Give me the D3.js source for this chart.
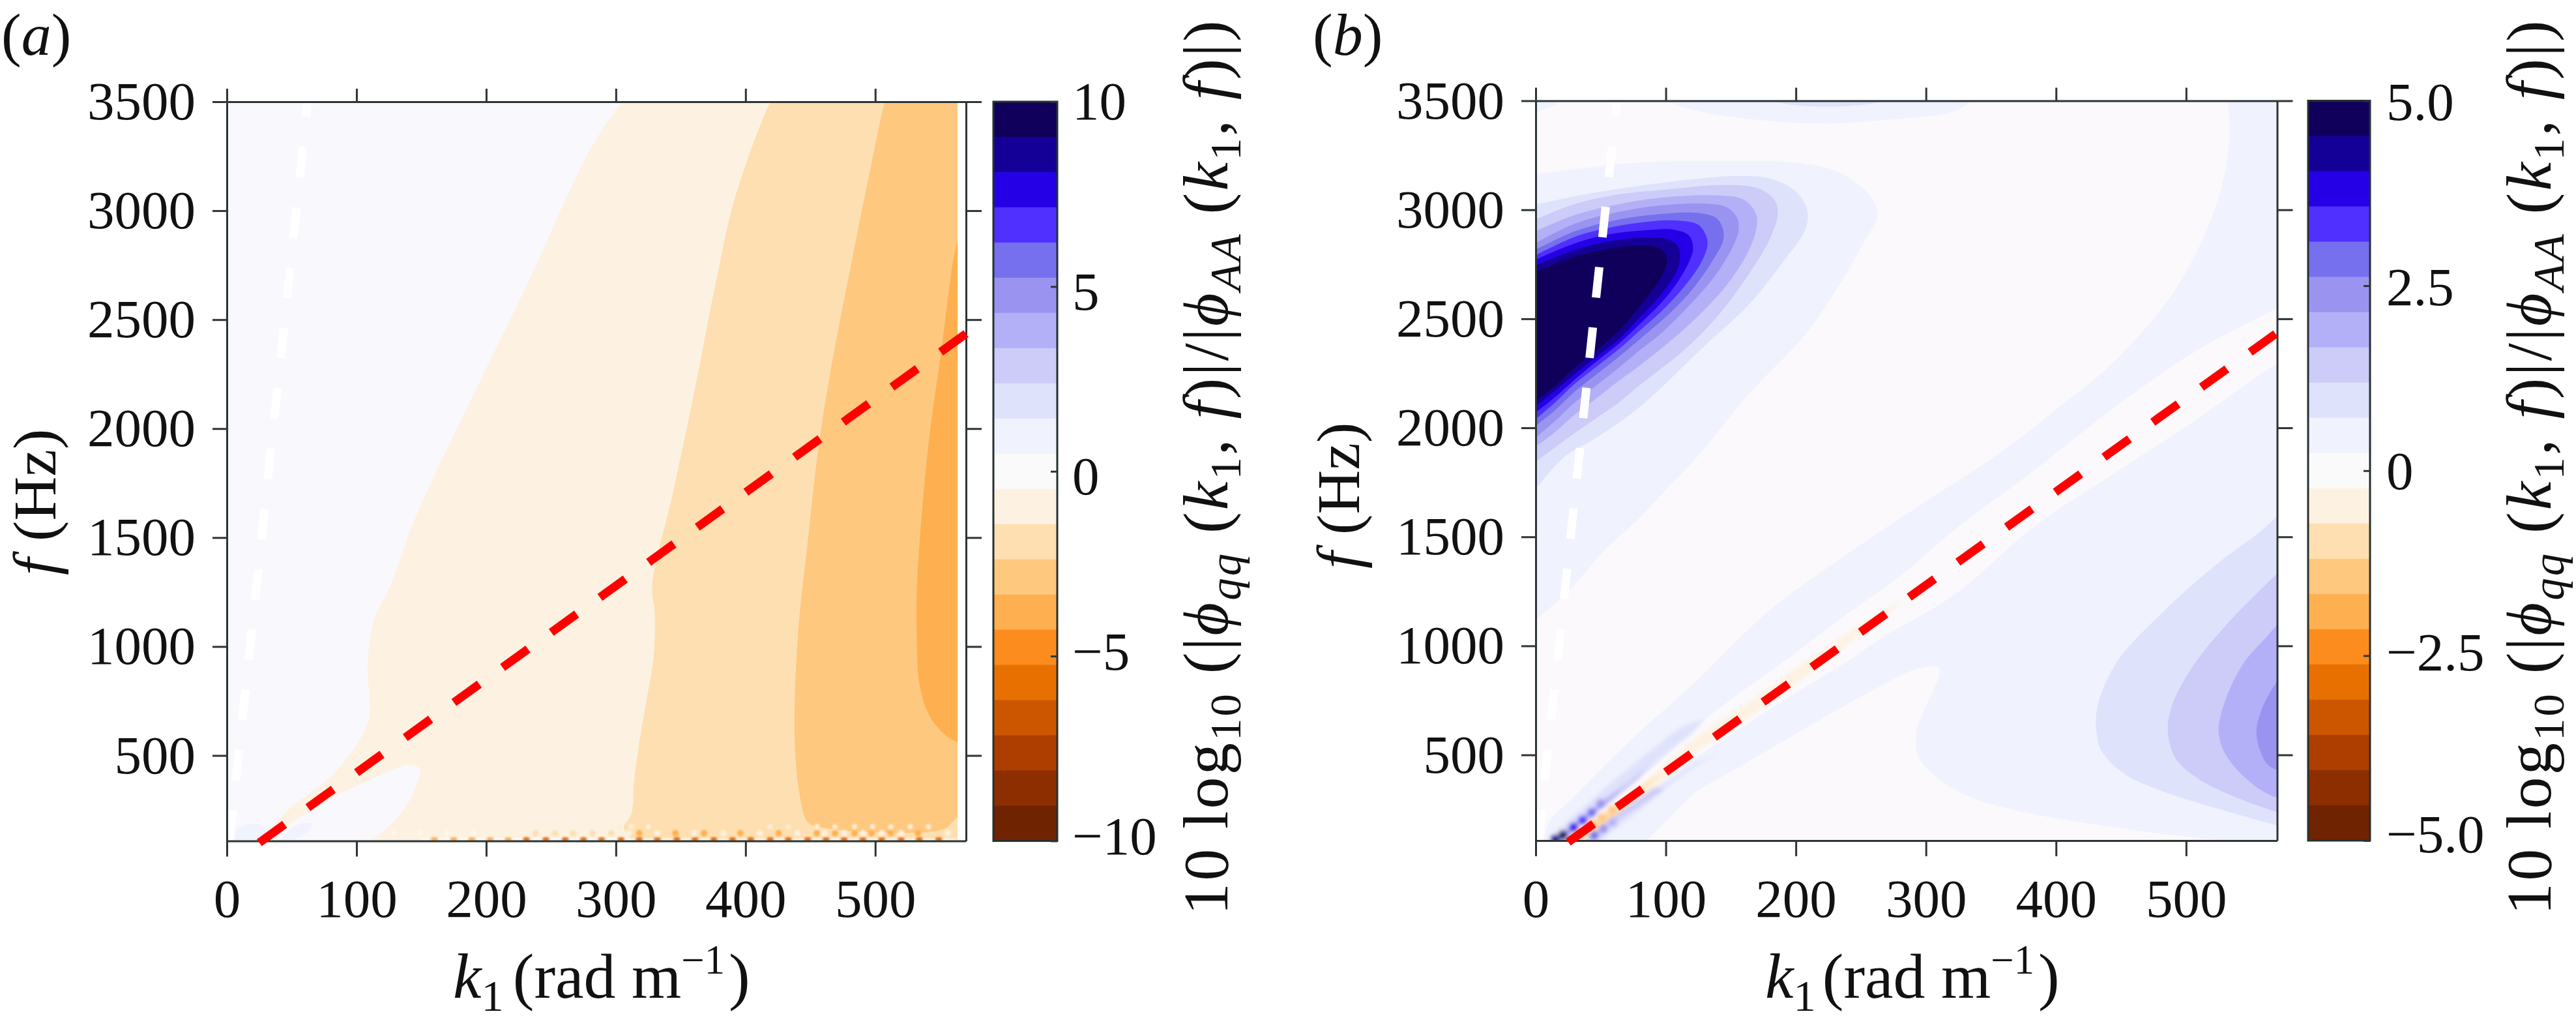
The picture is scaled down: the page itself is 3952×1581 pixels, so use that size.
<!DOCTYPE html>
<html>
<head>
<meta charset="utf-8">
<script src="https://cdn.jsdelivr.net/npm/d3@7"></script>
<style>
  html, body { margin: 0; padding: 0; background: #fff; }
  svg { display: block; }
  text { font-family: "Liberation Serif", serif; fill: #111; }
</style>
</head>
<body>
<svg id="chart" width="3952" height="1581"></svg>
<script>
var kTicks = [0, 100, 200, 300, 400, 500];
var fTicks = [500, 1000, 1500, 2000, 2500, 3000, 3500];
var cbarTicksA = [-10, -5, 0, 5, 10];
var cbarTicksB = [-5, -2.5, 0, 2.5, 5];
var cbarLabelsA = ['\u221210', '\u22125', '0', '5', '10'];
var cbarLabelsB = ['\u22125.0', '\u22122.5', '0', '2.5', '5.0'];

// colorbar, from the top band down
var bandColors = ['#10005c', '#150097', '#2500e6', '#5030ff', '#7670ee', '#9a94f0', '#b3b0f8',
  '#cdcbf8', '#dfe2fb', '#f0f2fd', '#fbfafb', '#fdf2e2', '#fedfb1', '#fec87f', '#feb050',
  '#fc8c1e', '#e87000', '#cc5600', '#ad3e00', '#8c2e00', '#6f2300'];

// white and red ridge lines, [k1, f]
var ridgeWhite = [[2, 108], [63, 3530]];
var ridgeRed = [[25, 100], [571, 2440]];

// panel (a) contour edges, [k1, f]
var aCream = [[310, 3560], [304, 3500], [280, 3280], [232, 2668], [146, 1600], [126, 1278], [113.6, 1127], [108.7, 932],
  [109.7, 678], [104, 588], [81.6, 411], [49, 260], [25, 108], [20, 80], [600, 80], [600, 3560]];
var aIsland = [[33, 100], [43, 160], [81.6, 306], [113.6, 397], [135, 450], [142, 458], [149, 440], [149, 426], [142, 306],
  [127, 187], [110, 108], [105, 90], [33, 90]];
var aPeach = [[425, 3560], [419, 3500], [392, 3063], [376, 2640], [360, 2156], [344, 1705], [328, 1282], [330, 1150],
  [329, 950], [322, 700], [318, 558], [314, 382], [312, 233], [306, 170], [312, 108], [312, 80], [600, 80], [600, 3560]];
var aOrangeLight = [[512, 3560], [507.6, 3500], [497, 3213], [481.6, 2760], [465, 2245], [455.6, 1884], [447.6, 1462],
  [441, 1100], [438, 768], [438, 558], [441, 346], [447.7, 196], [456, 172], [552, 160], [563, 212], [600, 300], [600, 3560]];
var aOrange = [[575, 3000], [563, 2850], [557, 2640], [550.6, 2340], [542.6, 2007], [536, 1615], [532, 1252], [532, 1040],
  [534, 830], [541, 692], [550, 617], [563, 563], [600, 540], [600, 3000]];
var aBlueLeft = [[6, 100], [8, 160], [20, 185], [27, 180], [30, 150], [24, 100]];
var aBlueRight = [[40, 100], [52, 175], [66, 187], [62, 150], [52, 115], [46, 100]];

// panel (a) speckle along the lower edge, k1 only
var speckOrangeK = [160, 175, 189, 203, 217, 231, 246, 261, 275, 289, 304, 318, 332, 347, 361, 375.5, 390, 404, 419, 433,
  448, 462, 476, 490.5, 505, 520, 534, 549];
var speckPeachK = [238, 253, 267, 282, 296.5, 310, 318, 332, 346, 360.5, 368, 383, 396, 411, 425.5, 440, 455, 461, 469, 476,
  484, 490.6, 497, 505, 512, 520, 533, 556];
var speckPaleK = [109, 129, 149, 170, 190, 303, 312, 325, 419, 433, 455, 469, 484, 498, 512, 527, 541];

// panel (b) contour edges, [k1, f]
var bTopCorner = [[-2, 3445], [20, 3500], [20, 3530], [-2, 3530]];
var bTopStrip = [[90, 3530], [99.5, 3500], [125, 3452], [173, 3411], [221, 3396], [268, 3411], [322, 3452], [335, 3500], [340, 3530]];
var bTopStripInner = [[175, 3530], [182, 3500], [221, 3473], [268, 3500], [275, 3530]];
var bLight = [[-2, 90], [5, 100], [10, 190], [30, 312], [77, 590], [122, 830], [179, 1159], [237, 1411], [294, 1640], [353, 1869],
  [399, 2079], [445, 2305], [492, 2637], [522, 3001], [533, 3300], [532, 3500], [530, 3560], [600, 3560], [600, 80], [-2, 80]];
var bLineStrip = [[12, 90], [15, 108], [30, 180], [60, 300], [90, 440], [122, 621], [151, 758], [199, 964], [237, 1136], [280, 1319],
  [323, 1537], [384, 1808], [445, 2094], [507, 2350], [569, 2546], [600, 2640], [600, 2380], [569, 2290], [507, 2034], [445, 1792],
  [384, 1551], [322, 1235], [265, 1033], [237, 919], [199, 781], [151, 598], [122, 484], [80, 300], [40, 150], [28, 90]];
var bFinger = [[80, 90], [85, 108], [105, 224], [122, 323], [151, 426], [194, 575], [251, 770], [294, 896], [310, 901], [310, 861],
  [300, 724], [293, 609], [294, 495], [309, 392], [337, 300], [380, 232], [438, 174], [495, 129], [524, 111], [560, 90]];
var bRight9 = [[600, 1800], [564, 1560], [524, 1377], [481, 1148], [446, 919], [432, 724], [431, 609], [435, 518], [452, 415],
  [481, 335], [524, 254], [564, 186], [600, 130]];
var bRight8 = [[600, 1500], [564, 1297], [530, 1090], [504, 896], [489, 724], [486, 609], [492, 484], [512, 381], [564, 249], [600, 190]];
var bRight7 = [[600, 1300], [564, 1056], [544, 919], [530, 747], [525, 609], [530, 506], [544, 403], [564, 317], [600, 260]];
var bRight6 = [[600, 1100], [564, 781], [557, 690], [554, 609], [557, 518], [564, 449], [600, 380]];

// panel (b) closed lobe, outer band first
var bLobe10 = [[-2, 3162], [77, 3216], [141, 3223], [205, 3213], [237, 3162], [259, 3048], [263, 2972], [252, 2849], [237, 2690],
  [207, 2426], [164, 2156], [124, 1866], [100, 1715], [77, 1570], [55, 1451], [26, 1257], [-2, 1108]];
var bLobe9 = [[-2, 3021], [45, 3078], [109, 3132], [157, 3155], [182, 3140], [201, 3078], [209, 2987], [207, 2906], [190, 2760],
  [164, 2566], [130, 2376], [80, 2096], [47, 1956], [22, 1866], [-2, 1704]];
var bLobe8 = [[-2, 2951], [30, 3026], [64, 3071], [97, 3091], [147, 3114], [172, 3096], [184, 3041], [186, 2976], [180, 2866],
  [164, 2706], [139, 2506], [114, 2356], [80, 2196], [64, 2116], [47, 2046], [30, 1976], [14, 1906], [-2, 1836]];
var bLobe7 = [[-2, 2896], [30, 2976], [64, 3026], [97, 3056], [139, 3066], [160, 3046], [169, 2986], [170, 2926], [164, 2816],
  [147, 2656], [122, 2496], [97, 2366], [80, 2286], [64, 2216], [47, 2136], [30, 2061], [14, 1976], [-2, 1906]];
var bLobe6 = [[-2, 2841], [30, 2936], [64, 2991], [97, 3021], [130, 3028], [147, 3011], [155, 2961], [156, 2906], [152, 2836],
  [139, 2706], [122, 2586], [97, 2436], [80, 2356], [64, 2276], [47, 2196], [30, 2116], [14, 2026], [-2, 1946]];
var bLobe5 = [[-2, 2811], [30, 2901], [64, 2956], [97, 2981], [124, 2986], [139, 2961], [144, 2911], [144, 2856], [137, 2776],
  [122, 2646], [105, 2536], [80, 2406], [64, 2326], [47, 2246], [30, 2166], [14, 2076], [-2, 2001]];
var bLobe4 = [[-2, 2786], [30, 2876], [55, 2916], [80, 2941], [107, 2951], [125, 2931], [131, 2881], [132, 2836], [127, 2756],
  [114, 2646], [97, 2536], [80, 2446], [64, 2361], [47, 2281], [30, 2201], [14, 2111], [-2, 2031]];
var bLobe3 = [[-2, 2766], [30, 2846], [55, 2886], [80, 2904], [107, 2908], [118, 2881], [121, 2826], [119, 2776], [110, 2676],
  [97, 2576], [80, 2476], [64, 2386], [47, 2306], [30, 2221], [14, 2136], [-2, 2061]];
var bLobe2 = [[-2, 2741], [30, 2816], [55, 2854], [80, 2871], [100, 2868], [109, 2836], [111, 2796], [109, 2726], [97, 2616],
  [80, 2506], [64, 2406], [47, 2326], [30, 2246], [14, 2166], [-2, 2091]];
var bLobe1 = [[-2, 2711], [30, 2786], [55, 2821], [80, 2838], [92, 2831], [99.5, 2801], [101, 2761], [97, 2696], [80, 2556],
  [64, 2446], [47, 2356], [30, 2276], [14, 2186], [-2, 2116]];

// panel (b) streaks either side of the red line
var bCream = [[280, 1205], [248, 1090], [208, 930], [165, 747], [122, 575], [89, 402], [55, 242], [39, 172], [22, 100], [39, 100],
  [55, 172], [89, 332], [122, 506], [165, 678], [208, 861], [248, 1045], [274, 1159]];
var bPeach = [[98, 430], [60, 265], [30, 125], [25, 100], [38, 100], [70, 260]];
var bUpper9 = [[130, 662], [114, 632], [89, 522], [64, 402], [39, 272], [22, 182], [10, 100], [22, 100], [29, 142], [39, 202],
  [49, 252], [65, 322], [80, 402], [97, 492], [119, 592]];
var bUpper8 = [[89, 462], [72, 382], [52, 292], [35, 212], [22, 142], [12, 100], [24, 100], [29, 142], [45, 232], [59, 292], [79, 392]];
var bUpper7 = [[67, 352], [50, 282], [39, 232], [24, 162], [14, 100], [22, 100], [30, 162], [44, 222], [59, 302]];
var bLower9 = [[146, 517], [130, 472], [105, 372], [79, 242], [55, 132], [50, 100], [37, 100], [52, 172], [79, 292], [102, 382], [122, 462]];
var bLower8 = [[99, 342], [79, 262], [59, 182], [44, 100], [39, 100], [55, 192], [75, 282], [92, 352]];

// spots inside the streaks: k1, f, band index
var bSpots = [[50, 276, 5], [43, 236, 4], [36, 201, 3], [29, 168, 2], [21, 133, 0], [15, 113, 1], [52, 161, 5], [45, 131, 4], [59, 191, 6],
  [59, 247, 13], [51, 212, 13], [43, 180, 14], [34, 140, 14]];

var parts = [['10 log'], ['10', 'sub'], [' (|'], ['\u03d5', 'it'], ['qq', 'itsub'], [' ('], ['k', 'it'], ['1', 'sub'], [', '], ['f', 'it'],
  [')|/|'], ['\u03d5', 'it'], ['AA', 'itsub'], [' ('], ['k', 'it'], ['1', 'sub'], [', '], ['f', 'it'], [')|)']];

var svg = d3.select('#chart');
var tickColor = '#2c3434';
var tickFont = 83;
var labelFont = 98;

function mathText(g, list, size) {
  var text = g.append('text').attr('font-size', size).attr('xml:space', 'preserve');
  var shift = 0;
  list.forEach(function(p) {
    var kind = p[1] || '';
    var isSub = kind.indexOf('sub') >= 0;
    var isSup = kind === 'sup';
    var target = isSub ? size * 0.2 : (isSup ? -size * 0.38 : 0);
    var span = text.append('tspan')
      .attr('dy', target - shift)
      .attr('font-size', isSub ? size * 0.7 : (isSup ? size * 0.64 : size))
      .attr('font-style', kind.indexOf('it') === 0 ? 'italic' : 'normal')
      .text(p[0]);
    if (p[2]) span.attr('dx', p[2]);
    shift = target;
  });
  return text;
}

function drawPanel(p) {
  var g = svg.append('g');
  var x = d3.scaleLinear().domain([0, 570]).range([p.left, p.right]);
  var y = d3.scaleLinear().domain([p.fMin, 3500]).range([p.bottom, p.top]);
  var line = d3.line().x(function(d) { return x(d[0]); }).y(function(d) { return y(d[1]); });
  var smooth = d3.line().x(function(d) { return x(d[0]); }).y(function(d) { return y(d[1]); }).curve(d3.curveCatmullRom.alpha(0.5));

  var clipId = 'clip-' + p.name;
  g.append('clipPath').attr('id', clipId).append('rect')
    .attr('x', x(0)).attr('y', y(3500))
    .attr('width', x(p.dataMax) - x(0)).attr('height', y(p.fMin) - y(3500));

  var field = g.append('g').attr('clip-path', 'url(#' + clipId + ')');
  field.append('rect')
    .attr('x', x(0)).attr('y', y(3500))
    .attr('width', x(p.dataMax) - x(0)).attr('height', y(p.fMin) - y(3500))
    .attr('fill', p.base);

  p.layers.forEach(function(layer) {
    field.append('path').attr('d', smooth(layer[0]) + 'Z').attr('fill', layer[1]);
  });

  if (p.draw) p.draw(field, x, y, smooth);

  // white ridge stays inside the frame
  field.append('path').attr('d', line(ridgeWhite)).attr('fill', 'none').attr('stroke', '#fff')
    .attr('stroke-width', 13).attr('stroke-dasharray', '47 46');

  // frame
  g.append('g').attr('transform', 'translate(0,' + p.bottom + ')')
    .call(d3.axisBottom(x).tickValues(kTicks).tickSize(24).tickSizeOuter(0).tickPadding(34).tickFormat(d3.format('d')));
  g.append('g').attr('transform', 'translate(0,' + p.top + ')')
    .call(d3.axisTop(x).tickValues(kTicks).tickSize(20).tickSizeOuter(0).tickFormat(''));
  g.append('g').attr('transform', 'translate(' + p.left + ',0)')
    .call(d3.axisLeft(y).tickValues(fTicks).tickSize(22).tickSizeOuter(0).tickPadding(26).tickFormat(d3.format('d')));
  g.append('g').attr('transform', 'translate(' + p.right + ',0)')
    .call(d3.axisRight(y).tickValues(fTicks).tickSize(24).tickSizeOuter(0).tickFormat(''));
  g.selectAll('.domain').attr('stroke', tickColor).attr('stroke-width', 3);
  g.selectAll('.tick line').attr('stroke', tickColor).attr('stroke-width', 3);
  g.selectAll('.tick text').attr('font-size', tickFont).attr('font-family', '"Liberation Serif", serif').attr('fill', '#111');

  // red ridge pokes over the frame
  g.append('path').attr('d', line(ridgeRed)).attr('fill', 'none').attr('stroke', '#fe0000')
    .attr('stroke-width', 13).attr('stroke-dasharray', '48 44');

  // axis titles
  var fLabel = g.append('g').attr('transform', 'translate(' + p.fLabelX + ',' + p.fLabelY + ') rotate(-90)');
  mathText(fLabel, [['f', 'it'], ['(Hz)', '', 26]], 94);
  var kLabel = g.append('g').attr('transform', 'translate(' + p.kLabelX + ',1530)');
  mathText(kLabel, [['k', 'it'], ['1', 'sub'], ['(rad m', '', p.kGap], ['\u22121', 'sup'], [')', '', 6]], labelFont);
  var panelLabel = g.append('g').attr('transform', 'translate(' + p.tagX + ',84)');
  mathText(panelLabel, [['('], [p.name, 'it'], [')']], 92);

  // colorbar
  var c = d3.scaleLinear().domain(p.cbarDomain).range([p.bottom, p.top]);
  var bandH = (p.bottom - p.top) / bandColors.length;
  g.selectAll('.band').data(bandColors).enter().append('rect')
    .attr('x', p.cbarLeft).attr('width', p.cbarRight - p.cbarLeft)
    .attr('y', function(d, i) { return p.top + i * bandH; })
    .attr('height', bandH + 0.5)
    .attr('fill', function(d) { return d; });
  g.append('rect').attr('x', p.cbarLeft).attr('y', p.top)
    .attr('width', p.cbarRight - p.cbarLeft).attr('height', p.bottom - p.top)
    .attr('fill', 'none').attr('stroke', '#263030').attr('stroke-width', 3);
  var cAxis = g.append('g').attr('transform', 'translate(' + p.cbarRight + ',0)')
    .call(d3.axisRight(c).tickValues(p.cbarTicks).tickSize(-10).tickSizeOuter(0).tickPadding(p.cbarPad)
      .tickFormat(function(d, i) { return p.cbarLabels[i]; }));
  cAxis.select('.domain').remove();
  cAxis.selectAll('.tick line').attr('stroke', tickColor).attr('stroke-width', 3);
  cAxis.selectAll('.tick text').attr('font-size', tickFont).attr('font-family', '"Liberation Serif", serif').attr('fill', '#111')
    .attr('transform', function(d, i) { return 'translate(0,' + p.cbarNudge[i] + ')'; });

  var cLabel = g.append('g').attr('transform', 'translate(' + p.cLabelX + ',1403) rotate(-90)');
  mathText(cLabel, parts, labelFont).attr('letter-spacing', 3.2);
}

drawPanel({
  name: 'a', left: 348, right: 1482, top: 156, bottom: 1289.5, fMin: 108, dataMax: 563.5, base: '#f9f8fc',
  cbarLeft: 1524, cbarRight: 1622, cbarDomain: [-10, 10], cbarTicks: cbarTicksA, cbarLabels: cbarLabelsA,
  cbarPad: 23, cbarNudge: [-7, -6, 8, 9, 0],
  fLabelX: 85, fLabelY: 882, kLabelX: 695, kGap: 14, tagX: 2, cLabelX: 1883,
  layers: [[aCream, bandColors[11]], [aIsland, '#f9f8fc'], [aPeach, bandColors[12]], [aOrangeLight, bandColors[13]],
    [aOrange, bandColors[14]], [aBlueLeft, bandColors[9]], [aBlueRight, bandColors[9]]],
  draw: function(field, x, y) {
    var specks = field.append('g').attr('filter', 'url(#soft)');
    specks.selectAll('.pale').data(speckPaleK).enter().append('circle')
      .attr('cx', function(d) { return x(d); })
      .attr('cy', function(d, i) { return y(i < 5 ? 143 : 173); })
      .attr('r', 4)
      .attr('fill', function(d, i) { return i < 5 ? '#fef8ee' : '#fdeed6'; });
    specks.selectAll('.peach').data(speckPeachK).enter().append('circle')
      .attr('cx', function(d) { return x(d); }).attr('cy', y(143))
      .attr('r', 5)
      .attr('fill', function(d, i) { return d < 310 ? bandColors[12] : (i % 2 ? '#fef1dd' : bandColors[14]); });
    specks.append('rect').attr('x', x(150)).attr('width', x(563) - x(150)).attr('y', y(118)).attr('height', 3).attr('fill', '#fff');
    specks.selectAll('.orange').data(speckOrangeK).enter().append('ellipse')
      .attr('cx', function(d) { return x(d); }).attr('cy', y(116))
      .attr('rx', 6).attr('ry', 3)
      .attr('fill', function(d) { return d < 230 ? bandColors[14] : bandColors[16]; });
  }
});

drawPanel({
  name: 'b', left: 2356, right: 3493.5, top: 154.5, bottom: 1289, fMin: 107, dataMax: 570, base: '#fbf9fc',
  cbarLeft: 3541, cbarRight: 3636, cbarDomain: [-5, 5], cbarTicks: cbarTicksB, cbarLabels: cbarLabelsB,
  cbarPad: 25, cbarNudge: [-9, -4, 1, 3, 2],
  fLabelX: 85 + 2000, fLabelY: 872, kLabelX: 2708, kGap: 10, tagX: 2014, cLabelX: 3913,
  layers: [[bLight, bandColors[9]], [bLineStrip, '#fbf9fc'], [bFinger, '#fbf9fc'],
    [bTopCorner, bandColors[9]], [bTopStrip, bandColors[9]], [bTopStripInner, bandColors[8]],
    [bRight9, bandColors[8]], [bRight8, bandColors[7]], [bRight7, bandColors[6]], [bRight6, bandColors[5]],
    [bLobe10, bandColors[9]], [bLobe9, bandColors[8]], [bLobe8, bandColors[7]], [bLobe7, bandColors[6]], [bLobe6, bandColors[5]],
    [bLobe5, bandColors[4]], [bLobe4, bandColors[3]], [bLobe3, bandColors[2]], [bLobe2, bandColors[1]], [bLobe1, bandColors[0]]],
  draw: function(field, x, y, smooth) {
    var streaks = field.append('g').attr('filter', 'url(#softer)');
    [[bCream, 11], [bPeach, 12], [bUpper9, 8], [bUpper8, 7], [bUpper7, 6], [bLower9, 8], [bLower8, 7]].forEach(function(s) {
      streaks.append('path').attr('d', smooth(s[0]) + 'Z').attr('fill', bandColors[s[1]]);
    });
    streaks.selectAll('.spot').data(bSpots).enter().append('circle')
      .attr('cx', function(d) { return x(d[0]); })
      .attr('cy', function(d) { return y(d[1]); })
      .attr('r', 7)
      .attr('fill', function(d) { return bandColors[d[2]]; });
  }
});

// small blur for the pixelated low frequency parts
var defs = svg.append('defs');
defs.append('filter').attr('id', 'soft').append('feGaussianBlur').attr('stdDeviation', 1.5);
defs.append('filter').attr('id', 'softer').append('feGaussianBlur').attr('stdDeviation', 3);
</script>
</body>
</html>
